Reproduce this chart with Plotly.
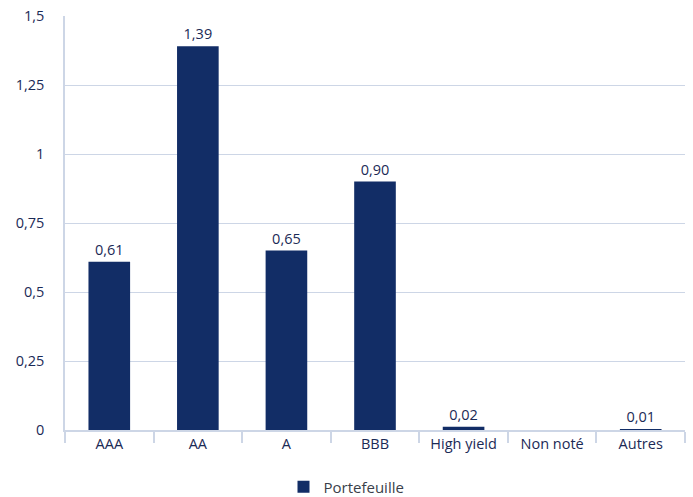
import plotly.graph_objects as go

categories = ["AAA", "AA", "A", "BBB", "High yield", "Non noté", "Autres"]
values = [0.61, 1.39, 0.65, 0.90, 0.012, 0.0, 0.002]
labels = ["0,61", "1,39", "0,65", "0,90", "0,02", "", "0,01"]
y_ticks = [0, 0.25, 0.5, 0.75, 1, 1.25, 1.5]
y_tick_text = ["0", "0,25", "0,5", "0,75", "1", "1,25", "1,5"]
series_name = "Portefeuille"

navy = "#122d66"
text_col = "#1b2a56"
grid_col = "#cdd6e6"
font_family = "Open Sans, Lato, sans-serif"
fs = 14.5

fig = go.Figure()
fig.add_trace(go.Bar(
    x=categories, y=values, name=series_name,
    marker=dict(color=navy, line=dict(width=0)),
    text=labels, textposition="outside", cliponaxis=False,
    textfont=dict(color=text_col, size=fs, family=font_family),
))

fig.update_layout(
    width=693, height=497,
    margin=dict(l=65, r=8, t=16, b=67),
    plot_bgcolor="white", paper_bgcolor="white",
    separators=", ",
    bargap=0.53,
    showlegend=True,
    font=dict(family=font_family, color=text_col, size=fs),
    legend=dict(orientation="h", xref="container", x=0.5, xanchor="center",
                yref="container", y=0.02, yanchor="middle",
                font=dict(size=15, color="#3a3f4a")),
    xaxis=dict(
        automargin=False,
        showline=True, linecolor=grid_col, linewidth=1.5,
        ticks="outside", tickson="boundaries", ticklen=11, tickcolor=grid_col, tickwidth=1.5,
        tickfont=dict(size=fs, color=text_col),
        showgrid=False,
    ),
    yaxis=dict(
        automargin=False,
        range=[0, 1.5], tickvals=y_ticks, ticktext=y_tick_text,
        showgrid=True, gridcolor=grid_col, gridwidth=1,
        showline=True, linecolor=grid_col, linewidth=1.5,
        zeroline=False, ticks="", ticklabelstandoff=16,
        tickfont=dict(size=fs, color=text_col),
    ),
)

fig.write_html("out.html", config={"displayModeBar": False},
               post_script="document.body.style.margin='0';")
